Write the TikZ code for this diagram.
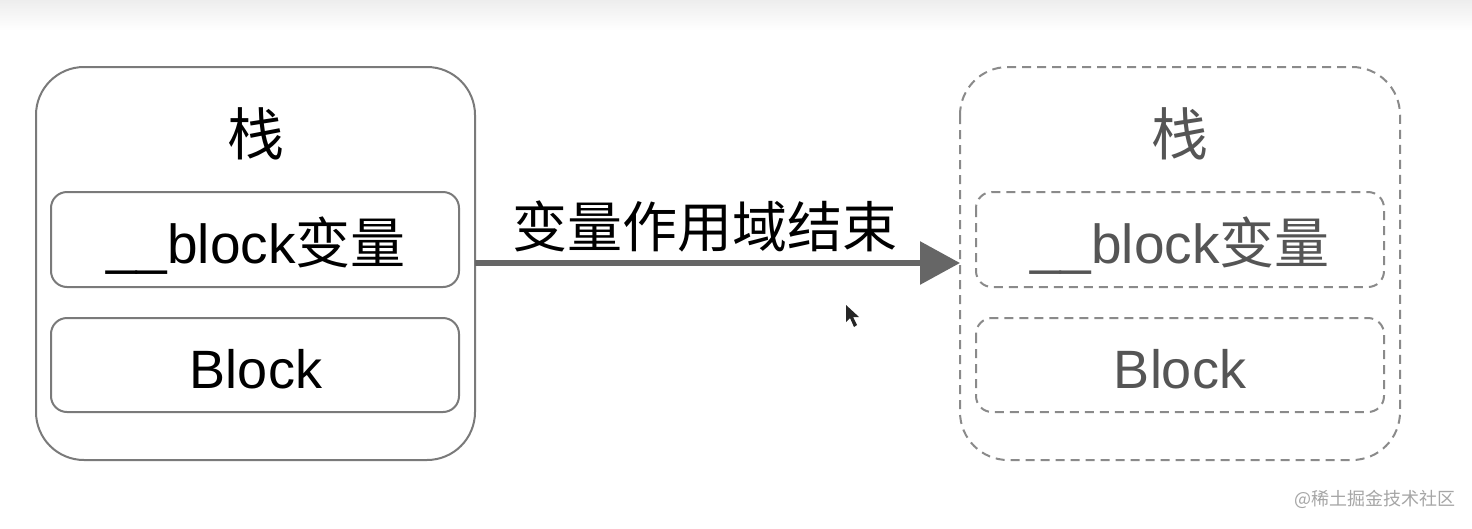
\documentclass[tikz,border=0pt]{standalone}
\usepackage{fontspec}
\setmainfont{Liberation Sans}
\newfontfamily\cjk{Noto Sans CJK SC}
\usetikzlibrary{arrows.meta}
\definecolor{edge}{HTML}{7A7A7A}
\definecolor{dedge}{HTML}{8A8A8A}
\definecolor{arrowc}{HTML}{666666}
\definecolor{fadetext}{HTML}{555555}
\tikzset{
  outerbox/.style={draw=edge, line width=2pt, rounded corners=48pt},
  innerbox/.style={draw=edge, line width=2pt, rounded corners=16pt},
  douterbox/.style={draw=dedge, line width=2pt, dash pattern=on 9pt off 6pt, rounded corners=48pt},
  dinnerbox/.style={draw=dedge, line width=2pt, dash pattern=on 9pt off 6pt, rounded corners=16pt},
  bigtext/.style={font=\fontsize{55}{62}\selectfont, inner sep=0pt},
  blocktext/.style={font=\fontsize{54}{62}\selectfont, inner sep=0pt},
  stacktext/.style={font=\cjk\fontsize{57}{64}\selectfont, inner sep=0pt},
}
\begin{document}
\begin{tikzpicture}[x=1pt,y=-1pt]
\useasboundingbox (0,0) rectangle (1472,528);
\fill[white] (0,0) rectangle (1472,528);
\shade[top color=black!7, bottom color=white] (0,0) rectangle (1472,30);
% left stack
\draw[outerbox] (36,67) rectangle (475,460);
\coordinate (L) at (475,263);
\node[stacktext] (lstack) at (256,134) {栈};
\draw[innerbox] (51,192) rectangle (459,287);
\node[bigtext, anchor=base] (lvar) at (256,263) {\_\_block{\cjk 变量}};
\draw[innerbox] (51,318) rectangle (459,412);
\node[blocktext, anchor=base] (lblock) at (256,388) {Block};
% right stack
\draw[douterbox] (960,67) rectangle (1400,460);
\coordinate (R) at (960,263);
\node[stacktext, text=fadetext] (rstack) at (1180,134) {栈};
\draw[dinnerbox] (976,192) rectangle (1384,287);
\node[bigtext, anchor=base, text=fadetext] (rvar) at (1180,263) {\_\_block{\cjk 变量}};
\draw[dinnerbox] (976,318) rectangle (1384,412);
\node[blocktext, anchor=base, text=fadetext] (rblock) at (1180,388) {Block};
% arrow
\draw[arrowc, line width=6pt, -{Triangle[length=40pt,width=42pt]}] (L) -- (R);
\node[bigtext, anchor=base] (lbl) at (705,247) {\cjk 变量作用域结束};
% cursor
\fill[black!85] (846,305) -- (846,322) -- (850,318) -- (854,327) -- (857,325) -- (853,317) -- (859,317) -- cycle;
% watermark
\node[font=\cjk\fontsize{18}{20}\selectfont, text=black!35, anchor=east, inner sep=0pt] (wm) at (1456,499) {@稀土掘金技术社区};
\end{tikzpicture}
\end{document}
